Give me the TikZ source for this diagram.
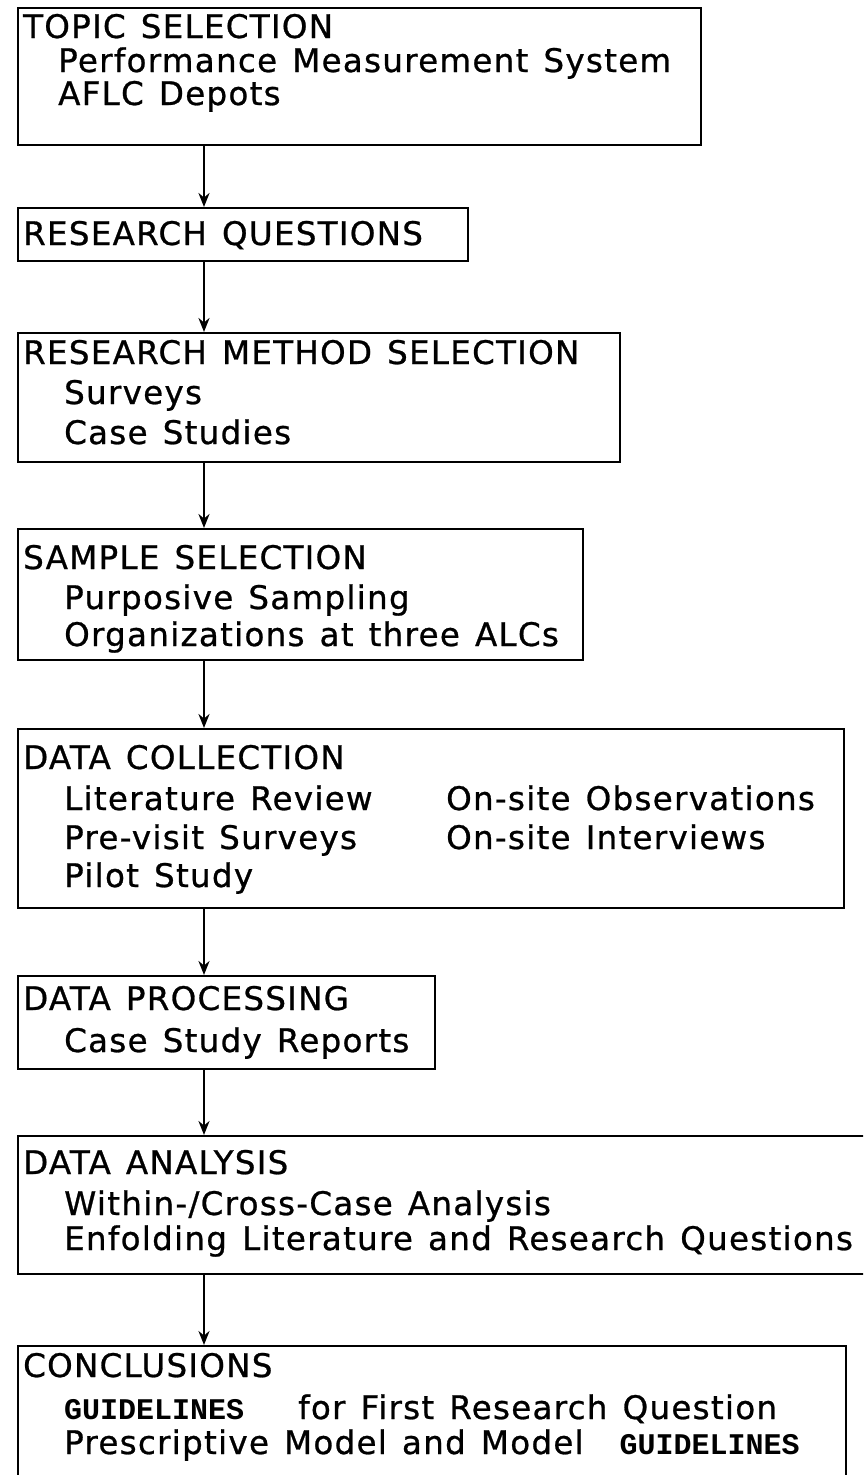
\documentclass[tikz,border=0pt]{standalone}
\usepackage{fontspec}
\setmainfont{DejaVu Sans}[LetterSpace=4, WordSpace=1.3, FakeBold=0.8]
\newfontfamily\guidefont{Liberation Mono}
\usepackage{tikz}
\usetikzlibrary{positioning,calc,arrows.meta}

\newcommand{\guideword}{{\guidefont\bfseries\fontsize{30}{36}\selectfont GUIDELINES}}

\begin{document}
\begin{tikzpicture}[x=1pt, y=-1pt,
    box/.style={draw, line width=2.4pt, anchor=north west, inner sep=0pt},
    item/.style={anchor=base west, inner sep=0pt, font=\fontsize{32.5}{40}\selectfont},
    flow/.style={line width=2.6pt, -{Stealth[length=14pt, width=11pt]}}]
    \useasboundingbox (0,0) rectangle (863,1475);
    \clip (0,0) rectangle (863,1475);
    \coordinate (spine) at (204,0);

    % Topic selection
    \node[box, minimum width=683pt, minimum height=137pt] (topic) at (17,7) {};
    \node[item] (topicA) at (23,38) {TOPIC SELECTION};
    \node[item] (topicB) at (58,72) {Performance Measurement System};
    \node[item] (topicC) at (58,105) {AFLC Depots};

    % Research questions
    \node[box, minimum width=450pt, minimum height=53pt] (quest) at (17,207) {};
    \node[item] (questA) at (23,245) {RESEARCH QUESTIONS};

    % Research method
    \node[box, minimum width=602pt, minimum height=129pt] (method) at (17,332) {};
    \node[item] (methodA) at (23,364) {RESEARCH METHOD SELECTION};
    \node[item] (methodB) at (64,404) {Surveys};
    \node[item] (methodC) at (64,444) {Case Studies};

    % Sample selection
    \node[box, minimum width=565pt, minimum height=131pt] (sample) at (17,528) {};
    \node[item] (sampleA) at (23,569) {SAMPLE SELECTION};
    \node[item] (sampleB) at (64,609) {Purposive Sampling};
    \node[item] (sampleC) at (64,646) {Organizations at three ALCs};

    % Data collection
    \node[box, minimum width=826pt, minimum height=179pt] (collect) at (17,728) {};
    \node[item] (collectA) at (23,769) {DATA COLLECTION};
    \node[item] (collectB) at (64,810) {Literature Review};
    \node[item] (collectC) at (64,849) {Pre-visit Surveys};
    \node[item] (collectD) at (64,887) {Pilot Study};
    \node[item] (collectE) at (446,810) {On-site Observations};
    \node[item] (collectF) at (446,849) {On-site Interviews};

    % Data processing
    \node[box, minimum width=417pt, minimum height=93pt] (process) at (17,975) {};
    \node[item] (processA) at (23,1010) {DATA PROCESSING};
    \node[item] (processB) at (64,1052) {Case Study Reports};

    % Data analysis
    \node[box, minimum width=870pt, minimum height=138pt] (analysis) at (17,1135) {};
    \node[item] (analysisA) at (23,1174) {DATA ANALYSIS};
    \node[item] (analysisB) at (64,1215) {Within-/Cross-Case Analysis};
    \node[item] (analysisC) at (64,1250) {Enfolding Literature and Research Questions};

    % Conclusions
    \node[box, minimum width=828pt, minimum height=160pt] (concl) at (17,1345) {};
    \node[item] (conclA) at (23,1377) {CONCLUSIONS};
    \node[item] (conclB) at (64,1419) {\guideword\hspace{54pt}for First Research Question};
    \node[item] (conclC) at (64,1454) {Prescriptive Model and Model\hspace{36pt}\guideword};

    % Arrows
    \foreach \a/\b in {topic/quest, quest/method, method/sample, sample/collect,
                       collect/process, process/analysis, analysis/concl}
        \draw[flow] (\a.south -| spine) -- (\b.north -| spine);
\end{tikzpicture}
\end{document}
